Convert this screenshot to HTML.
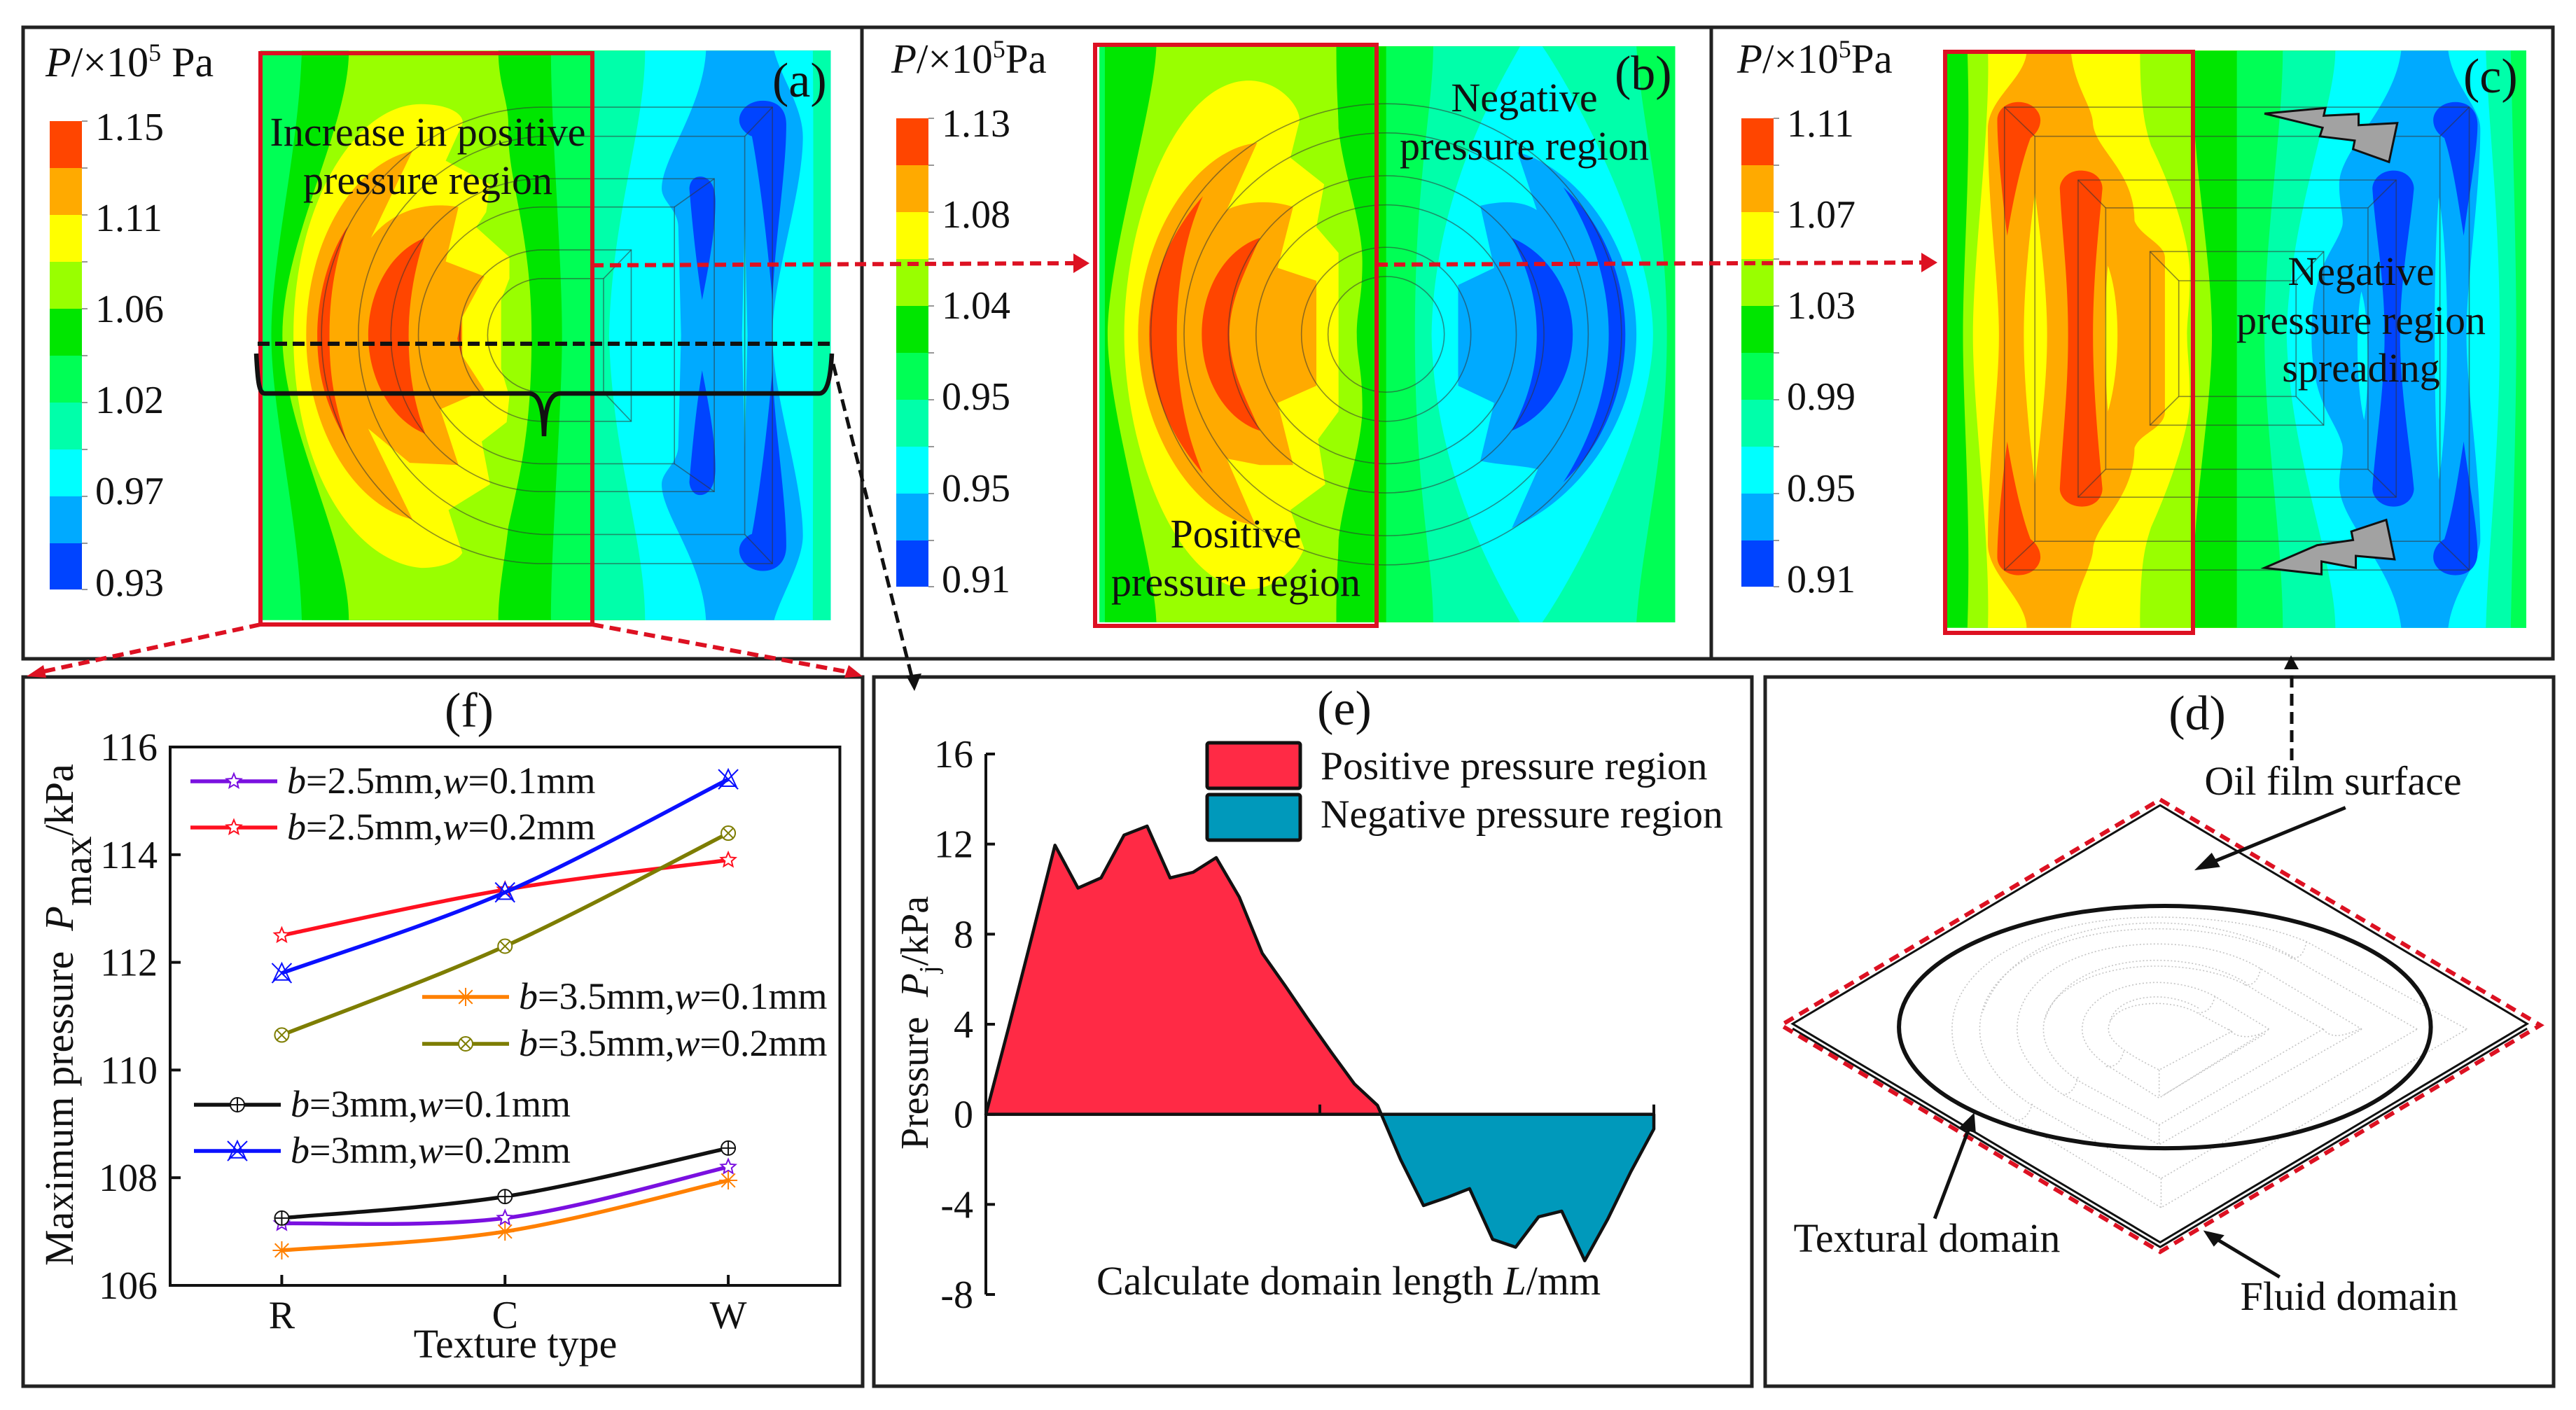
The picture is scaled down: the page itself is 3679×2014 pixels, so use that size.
<!DOCTYPE html>
<html lang="en">
<head>
<meta charset="utf-8">
<title>Oil film pressure distribution figure</title>
<style>
html,body{margin:0;padding:0;background:#fff;}
svg{display:block;}
text{font-family:"Liberation Serif",serif;fill:#111;}
.nss{vector-effect:non-scaling-stroke;}
.ring{fill:none;stroke:#333;stroke-opacity:.55;stroke-width:1.6;vector-effect:non-scaling-stroke;}
.dot{fill:none;stroke:#c4c4c4;stroke-width:1.6;stroke-dasharray:2 3;vector-effect:non-scaling-stroke;}
.lbl{font-size:56px;}
.cap{font-size:70px;}
.note{font-size:58px;text-anchor:middle;}
</style>
</head>
<body>
<svg id="figure" xmlns="http://www.w3.org/2000/svg" width="3679" height="2014" viewBox="0 0 3679 2014">
<defs>
  <clipPath id="clip-a"><rect x="470" y="118" width="1030" height="1329"/></clipPath>
  <clipPath id="clip-b"><rect x="430" y="108" width="1040" height="1344"/></clipPath>
  <clipPath id="clip-c"><rect x="430" y="118" width="1048" height="1347"/></clipPath>
  <g id="cbar">
    <rect x="0" y="0" width="46" height="67" fill="#ff4500"/>
    <rect x="0" y="67" width="46" height="67" fill="#ffaa00"/>
    <rect x="0" y="134" width="46" height="67" fill="#ffff00"/>
    <rect x="0" y="201" width="46" height="67" fill="#99ff00"/>
    <rect x="0" y="268" width="46" height="67" fill="#00e600"/>
    <rect x="0" y="335" width="46" height="67" fill="#00ff55"/>
    <rect x="0" y="402" width="46" height="67" fill="#00ffaa"/>
    <rect x="0" y="469" width="46" height="67" fill="#00ffff"/>
    <rect x="0" y="536" width="46" height="67" fill="#00aaff"/>
    <rect x="0" y="603" width="46" height="66" fill="#0044ff"/>
    <path d="M46,0h8M46,67h8M46,134h8M46,201h8M46,268h8M46,335h8M46,402h8M46,469h8M46,536h8M46,603h8M46,669h8" stroke="#777" stroke-width="1.5"/>
  </g>
</defs>
<rect x="0" y="0" width="3679" height="2014" fill="#fff"/>

<!-- PANEL A -->
<g transform="scale(.7908,.6122)">
 <g clip-path="url(#clip-a)">
  <rect x="470" y="118" width="1030" height="1329" fill="#00ff55"/>
  <path fill="#00e600" d="M545,118 C540,350 490,600 490,782 C490,960 540,1210 545,1447 H1600 V118Z"/>
  <path fill="#99ff00" d="M630,118 C630,300 510,560 510,782 C510,1000 630,1260 630,1447 H1600 V118Z"/>
  <path fill="#00e600" d="M900,118 C900,200 920,240 918,300 C916,420 960,540 960,782 C960,1000 940,1100 918,1230 C910,1320 900,1380 900,1447 H1600V118Z"/>
  <path fill="#00ff55" d="M995,118 C995,300 1015,600 1015,782 C1015,960 995,1260 995,1447 H1600V118Z"/>
  <path fill="#00ffaa" d="M1070,118 V1447 H1600 V118Z"/>
  <path fill="#00ffff" d="M1165,118 C1165,300 1105,500 1100,782 C1105,1060 1165,1260 1165,1447 H1600V118Z"/>
  <path fill="#00aaff" d="M1275,118 C1270,250 1195,370 1195,440 C1195,470 1225,490 1225,530 L1230,782 L1225,1040 C1225,1080 1195,1100 1195,1130 C1195,1200 1270,1310 1275,1447 H1600V118Z"/>
  <path fill="#00ffff" d="M1398,118 C1410,180 1450,250 1450,320 C1450,450 1395,650 1395,782 C1395,920 1450,1120 1450,1250 C1450,1310 1410,1390 1398,1447H1600V118Z"/>
  <path fill="#00ffaa" d="M1468,118 C1470,400 1468,1100 1468,1447 H1600V118Z"/>
  <path fill="#00ffff" d="M1345,520 L1350,782 L1345,1045 L1340,782Z"/>
  <path fill="#0044ff" d="M1395,700 C1400,550 1420,400 1420,290 C1420,250 1400,235 1378,235 C1350,235 1335,260 1335,280 C1335,300 1350,315 1358,318 C1370,400 1385,550 1395,700Z"/>
  <path fill="#0044ff" d="M1395,864 C1400,1014 1420,1164 1420,1274 C1420,1314 1400,1332 1378,1332 C1350,1332 1335,1304 1335,1284 C1335,1264 1350,1249 1358,1246 C1370,1164 1385,1014 1395,864Z"/>
  <path fill="#0044ff" d="M1268,700 C1280,620 1292,540 1292,470 C1292,430 1280,412 1264,412 C1250,412 1245,430 1245,440 C1250,520 1258,620 1268,700Z"/>
  <path fill="#0044ff" d="M1268,864 C1280,944 1292,1024 1292,1094 C1292,1134 1280,1155 1264,1155 C1250,1155 1245,1134 1245,1124 C1250,1044 1258,944 1268,864Z"/>
  <path fill="#ffff00" d="M760,243 C815,243 840,270 835,290 L805,375 L885,430 L878,495 L860,530 L920,600 L920,650 L905,700 L905,860 L920,925 L915,985 L870,1030 L885,1130 L810,1190 L835,1290 C820,1320 780,1325 760,1325 C640,1310 530,1100 530,782 C530,480 640,243 760,243Z"/>
  <path fill="#ffaa00" d="M745,352 C640,380 553,560 553,782 C553,1000 640,1180 745,1212 L665,1000 L740,1080 L828,1085 L795,955 L875,910 L835,830 L835,740 L875,645 L805,610 L828,483 C770,470 710,490 670,555 Z"/>
  <path fill="#ff4500" d="M628,528 C590,600 573,700 573,782 C573,880 590,950 628,1035 C600,930 595,860 595,782 C595,690 605,610 628,528Z"/>
  <path fill="#ff4500" d="M767,555 C700,590 665,690 665,782 C665,880 705,980 768,1012 C745,930 738,860 738,782 C738,700 750,620 767,555Z"/>
  <path fill="#ff4500" d="M833,750 L826,790 L833,830Z"/>
  <path class="ring" d="M1395,250 H980 A399,532 0 0 0 980,1315 H1395 Z"/>
  <path class="ring" d="M1345,318 H980 A349,465 0 0 0 980,1247 H1345 Z"/>
  <path class="ring" d="M1290,417 H980 A274,365 0 0 0 980,1147 H1290 Z"/>
  <path class="ring" d="M1218,483 H980 A224,299 0 0 0 980,1082 H1218 Z"/>
  <path class="ring" d="M1140,583 H980 A149,199 0 0 0 980,983 H1140 Z"/>
  <path class="ring" d="M1090,650 H980 A99,132 0 0 0 980,915 H1090 Z"/>
  <path class="ring" d="M1395,250 L1345,318 M1290,417 L1218,483 M1140,583 L1090,650 M1140,983 L1090,915 M1290,1147 L1218,1082 M1395,1315 L1345,1247"/>
 </g>
</g>
<use href="#cbar" x="71" y="173"/>
<text x="65" y="109" font-size="60"><tspan font-style="italic">P</tspan>/×10<tspan dy="-22" font-size="36">5</tspan><tspan dy="22"> Pa</tspan></text>
<g class="lbl">
 <text x="136" y="200">1.15</text><text x="136" y="330">1.11</text><text x="136" y="460">1.06</text><text x="136" y="590">1.02</text><text x="136" y="720">0.97</text><text x="136" y="851">0.93</text>
</g>
<text class="cap" x="1103" y="138">(a)</text>
<text class="note" x="611" y="208">Increase in positive</text>
<text class="note" x="611" y="277">pressure region</text>
<rect x="372" y="76" width="474" height="816" fill="none" stroke="#dd1122" stroke-width="6"/>

<!-- PANEL B -->
<g transform="translate(1230,0) scale(.7908,.6122)">
 <g clip-path="url(#clip-b)">
  <rect x="430" y="108" width="1040" height="1344" fill="#00ff55"/>
  <path fill="#00e600" d="M440,108 V1452 H1600 V108Z"/>
  <path fill="#99ff00" d="M533,108 C530,250 445,600 445,780 C445,960 530,1310 533,1452 H1600V108Z"/>
  <path fill="#00e600" d="M858,108 C858,220 862,260 862,300 C870,400 905,520 905,610 C905,700 895,720 895,780 C895,840 905,860 905,950 C905,1040 870,1160 862,1260 C862,1300 858,1340 858,1452H1600V108Z"/>
  <path fill="#00ff55" d="M948,108 V1452H1600V108Z"/>
  <path fill="#00ffaa" d="M1033,108 C1033,250 1000,420 1000,780 C1000,1140 1033,1310 1033,1452H1600V108Z"/>
  <path fill="#00ffff" d="M1190,108 C1150,200 1035,450 1030,780 C1035,1110 1150,1360 1190,1452 H1230 C1290,1340 1430,1000 1430,780 C1430,560 1290,220 1230,108Z"/>
  <path fill="#00ff55" d="M1400,108 C1410,300 1455,500 1455,780 C1455,1060 1410,1260 1400,1452H1600V108Z"/>
  <path fill="#00aaff" d="M1185,355 C1290,390 1400,570 1400,780 C1400,990 1290,1170 1175,1232 L1222,1095 C1190,1085 1150,1085 1118,1075 L1143,940 L1078,900 L1078,665 L1143,625 L1118,480 C1150,470 1190,465 1220,490 Z"/>
  <path fill="#0044ff" d="M1268,437 C1340,520 1380,650 1380,780 C1380,910 1340,1040 1268,1125 C1320,1020 1350,900 1350,780 C1350,660 1320,540 1268,437Z"/>
  <path fill="#0044ff" d="M1175,555 C1240,590 1285,680 1285,780 C1285,880 1240,970 1175,1005 C1205,930 1220,860 1220,780 C1220,700 1205,630 1175,555Z"/>
  <path fill="#ffff00" d="M700,188 C760,188 800,260 790,290 L775,368 L836,430 L822,530 L862,590 L862,960 L825,1025 L838,1130 L775,1190 L800,1280 C780,1340 740,1375 700,1375 C570,1370 475,1050 475,780 C475,510 570,188 700,188Z"/>
  <path fill="#ffaa00" d="M715,333 C600,350 500,560 500,780 C500,1000 600,1210 712,1225 L660,1070 L720,1085 L780,1085 L752,940 L822,900 L822,655 L752,625 L780,483 C740,465 690,470 660,490 Z"/>
  <path fill="#ff4500" d="M617,458 C560,540 520,650 520,780 C520,910 560,1020 617,1105 C585,1010 570,900 570,780 C570,660 585,550 617,458Z"/>
  <path fill="#ff4500" d="M720,555 C660,580 615,670 615,780 C615,890 660,980 720,1005 C695,930 665,860 665,780 C665,700 695,630 720,555Z"/>
  <ellipse class="ring" cx="948" cy="780" rx="105" ry="135"/>
  <ellipse class="ring" cx="948" cy="780" rx="153" ry="203"/>
  <ellipse class="ring" cx="948" cy="780" rx="235" ry="302"/>
  <ellipse class="ring" cx="948" cy="780" rx="285" ry="370"/>
  <ellipse class="ring" cx="948" cy="780" rx="365" ry="470"/>
  <ellipse class="ring" cx="948" cy="780" rx="425" ry="538"/>
 </g>
</g>
<use href="#cbar" x="1280" y="169"/>
<text x="1273" y="104" font-size="59"><tspan font-style="italic">P</tspan>/×10<tspan dy="-22" font-size="36">5</tspan><tspan dy="22">Pa</tspan></text>
<g class="lbl">
 <text x="1345" y="195">1.13</text><text x="1345" y="325">1.08</text><text x="1345" y="455">1.04</text><text x="1345" y="585">0.95</text><text x="1345" y="716">0.95</text><text x="1345" y="846">0.91</text>
</g>
<text class="cap" x="2306" y="128">(b)</text>
<text class="note" x="2177" y="159">Negative</text>
<text class="note" x="2177" y="228">pressure region</text>
<text class="note" x="1765" y="782">Positive</text>
<text class="note" x="1765" y="851">pressure region</text>
<rect x="1564" y="64" width="402" height="830" fill="none" stroke="#dd1122" stroke-width="6"/>

<!-- PANEL C -->
<g transform="translate(2440,0) scale(.7902,.6122)">
 <g clip-path="url(#clip-c)">
  <rect x="430" y="118" width="1048" height="1347" fill="#00e600"/>
  <path fill="#99ff00" d="M468,118 C475,400 460,600 460,782 C460,960 475,1200 468,1465 H1600V118Z"/>
  <path fill="#ffff00" d="M505,118 C510,300 478,600 478,782 C478,960 510,1260 505,1465H1600V118Z"/>
  <path fill="#ffaa00" d="M575,118 C575,180 505,230 505,300 C505,500 525,650 525,782 C525,920 505,1060 505,1270 C505,1340 575,1400 575,1465 H1600V118Z"/>
  <path fill="#ffff00" d="M655,118 C660,200 695,250 695,290 C700,350 770,400 770,515 C780,550 825,570 825,600 L825,960 C825,1000 780,1010 770,1045 C770,1160 700,1220 695,1280 C695,1320 660,1380 655,1465H1600V118Z"/>
  <path fill="#99ff00" d="M780,118 C780,250 790,300 800,340 C835,430 870,560 870,640 C870,720 865,740 865,782 C865,820 870,860 870,930 C870,1000 835,1130 800,1230 C790,1270 780,1310 780,1465H1600V118Z"/>
  <path fill="#00e600" d="M872,118 C875,400 910,600 910,782 C910,960 875,1160 872,1465H1600V118Z"/>
  <path fill="#00ff55" d="M955,118 V1465H1600V118Z"/>
  <path fill="#00ffaa" d="M1038,118 C1038,300 1005,550 1005,782 C1005,1010 1038,1260 1038,1465H1600V118Z"/>
  <path fill="#00ffff" d="M1133,118 C1133,250 1050,500 1045,782 C1050,1060 1133,1310 1133,1465H1600V118Z"/>
  <path fill="#00aaff" d="M1252,118 C1240,250 1140,350 1140,430 C1140,480 1150,510 1145,530 C1130,590 1090,620 1090,782 C1090,940 1130,970 1145,1035 C1150,1060 1140,1090 1140,1130 C1140,1220 1240,1320 1252,1465H1600V118Z"/>
  <path fill="#00ffff" d="M1337,118 C1345,200 1395,250 1395,300 C1395,450 1370,650 1370,782 C1370,910 1395,1100 1395,1260 C1395,1310 1345,1380 1337,1465H1600V118Z"/>
  <path fill="#00ffaa" d="M1405,118 C1410,300 1430,500 1430,782 C1430,1060 1410,1260 1405,1465H1600V118Z"/>
  <path fill="#00ff55" d="M1450,118 C1455,400 1460,600 1460,782 C1460,960 1455,1160 1450,1465H1600V118Z"/>
  <path fill="#ffff00" d="M590,450 C575,600 570,700 570,782 C570,870 575,960 590,1130 C605,960 612,870 612,782 C612,700 605,600 590,450Z"/>
  <path fill="#ffff00" d="M722,620 C715,700 715,860 722,960 C745,860 745,700 722,620Z"/>
  <path fill="#00ffff" d="M1320,460 C1310,600 1310,960 1320,1120 C1340,960 1340,600 1320,460Z"/>
  <path fill="#00ffff" d="M1180,680 C1170,740 1170,900 1185,980 C1195,900 1195,740 1180,680Z"/>
  <path fill="#ff4500" d="M540,550 C530,450 522,340 522,280 C522,255 540,238 560,238 C585,238 600,260 600,280 C600,300 590,315 582,322 C565,380 550,470 540,550Z"/>
  <path fill="#ff4500" d="M540,1030 C530,1130 522,1240 522,1300 C522,1325 540,1342 560,1342 C585,1342 600,1320 600,1300 C600,1280 590,1265 582,1258 C565,1200 550,1110 540,1030Z"/>
  <path fill="#ff4500" d="M672,398 C650,398 635,420 635,440 C640,560 650,650 650,782 C650,910 640,1020 635,1140 C635,1160 650,1182 675,1182 C700,1182 712,1160 712,1140 C705,1040 695,910 695,782 C695,650 705,540 712,440 C712,420 700,398 672,398Z"/>
  <path fill="#0044ff" d="M1365,550 C1375,450 1390,350 1390,290 C1390,260 1375,238 1350,238 C1325,238 1310,260 1310,280 C1310,300 1320,315 1330,322 C1345,380 1355,470 1365,550Z"/>
  <path fill="#0044ff" d="M1365,1030 C1375,1130 1390,1230 1390,1290 C1390,1320 1375,1342 1350,1342 C1325,1342 1310,1320 1310,1300 C1310,1280 1320,1265 1330,1258 C1345,1200 1355,1110 1365,1030Z"/>
  <path fill="#0044ff" d="M1238,398 C1215,398 1200,420 1200,440 C1205,540 1222,650 1222,782 C1222,910 1205,1040 1200,1140 C1200,1160 1215,1182 1238,1182 C1262,1182 1275,1160 1275,1140 C1268,1040 1250,910 1250,782 C1250,650 1268,540 1275,440 C1275,420 1262,398 1238,398Z"/>
  <rect class="ring" x="535" y="250" width="840" height="1080"/>
  <rect class="ring" x="590" y="318" width="732" height="945"/>
  <rect class="ring" x="668" y="420" width="575" height="740"/>
  <rect class="ring" x="718" y="485" width="474" height="610"/>
  <rect class="ring" x="798" y="587" width="314" height="405"/>
  <rect class="ring" x="850" y="655" width="212" height="270"/>
  <path class="ring" d="M535,250 L590,318 M1375,250 L1322,318 M668,420 L718,485 M1243,420 L1192,485 M798,587 L850,655 M1112,587 L1062,655 M798,992 L850,925 M1112,992 L1062,925 M668,1160 L718,1095 M1243,1160 L1192,1095 M535,1330 L590,1263 M1375,1330 L1322,1263"/>
 </g>
 <path class="nss" fill="#a2a2a2" stroke="#111" stroke-width="3" d="M1005,265 L1115,252 L1112,270 L1175,266 L1175,292 L1245,287 L1230,378 L1165,348 L1168,328 L1105,318 L1110,298 Z"/>
 <path class="nss" fill="#a2a2a2" stroke="#111" stroke-width="3" d="M1005,1325 L1100,1272 L1165,1260 L1162,1240 L1225,1213 L1240,1305 L1170,1297 L1170,1325 L1108,1310 L1108,1340 Z"/>
</g>
<use href="#cbar" x="2487" y="169"/>
<text x="2481" y="104" font-size="59"><tspan font-style="italic">P</tspan>/×10<tspan dy="-22" font-size="36">5</tspan><tspan dy="22">Pa</tspan></text>
<g class="lbl">
 <text x="2552" y="195">1.11</text><text x="2552" y="325">1.07</text><text x="2552" y="455">1.03</text><text x="2552" y="585">0.99</text><text x="2552" y="716">0.95</text><text x="2552" y="846">0.91</text>
</g>
<text class="cap" x="3518" y="132">(c)</text>
<text class="note" x="3372" y="407">Negative</text>
<text class="note" x="3372" y="477">pressure region</text>
<text class="note" x="3372" y="545">spreading</text>
<rect x="2778" y="74" width="354" height="830" fill="none" stroke="#dd1122" stroke-width="6"/>

<!-- FRAMES -->
<g fill="none" stroke="#222" stroke-width="5">
  <rect x="33" y="39" width="3613" height="902"/>
  <line x1="1231" y1="39" x2="1231" y2="941"/>
  <line x1="2444" y1="39" x2="2444" y2="941"/>
  <rect x="33" y="967" width="1199" height="1013"/>
  <rect x="1248" y="967" width="1254" height="1013"/>
  <rect x="2521" y="967" width="1126" height="1013"/>
</g>

<!-- CONNECTORS -->
<g>
  <line x1="368" y1="491" x2="1186" y2="491" stroke="#111" stroke-width="6" stroke-dasharray="17 8"/>
  <path d="M366,505 C368,545 370,562 378,562 H755 C768,562 776,575 777,623 C778,575 788,562 800,562 H1170 C1180,562 1186,545 1188,505" fill="none" stroke="#111" stroke-width="6.5"/>
</g>
<g>
  <line x1="846" y1="379" x2="1535" y2="376" stroke="#dd1122" stroke-width="6" stroke-dasharray="16 9"/>
  <polygon points="1556,376 1533,362 1533,390" fill="#dd1122"/>
  <line x1="1966" y1="378" x2="2745" y2="375" stroke="#dd1122" stroke-width="6" stroke-dasharray="16 9"/>
  <polygon points="2767,375 2744,361 2744,389" fill="#dd1122"/>
  <line x1="372" y1="892" x2="58" y2="960" stroke="#dd1122" stroke-width="6" stroke-dasharray="16 9"/>
  <polygon points="38,966 62,950 66,968" fill="#dd1122"/>
  <line x1="846" y1="892" x2="1212" y2="960" stroke="#dd1122" stroke-width="6" stroke-dasharray="16 9"/>
  <polygon points="1232,966 1206,968 1212,950" fill="#dd1122"/>
</g>
<g>
  <line x1="1190" y1="520" x2="1303" y2="970" stroke="#111" stroke-width="5" stroke-dasharray="17 9"/>
  <polygon points="1306,987 1294,965 1316,962" fill="#111"/>
  <line x1="3273" y1="1086" x2="3273" y2="950" stroke="#111" stroke-width="5" stroke-dasharray="17 9"/>
  <polygon points="3272,936 3262,956 3283,956" fill="#111"/>
</g>

<!-- PANEL D -->
<g transform="translate(2780,1260) scale(.3954,.3333)">
  <path class="dot" d="M1030,640 L905,560 C860,530 800,520 760,520 C660,520 585,560 585,630 C585,680 640,730 768,805 Z"/>
  <path class="dot" d="M910,540 C860,505 800,490 750,492 C660,495 600,540 590,600"/>
  <path class="dot" d="M1165,630 L970,490 C900,445 820,430 760,430 C620,430 490,510 490,630 C490,690 530,750 600,800 L768,925 Z"/>
  <path class="dot" d="M1150,650 L780,915"/>
  <path class="dot" d="M1360,630 L1130,475 C1030,390 880,360 760,360 C530,360 350,470 350,630 C350,730 420,820 520,880 L768,1040 Z"/>
  <path class="dot" d="M1080,430 C980,360 860,335 760,335 C570,335 400,420 355,590"/>
  <path class="dot" d="M1500,630 L1140,375 C1040,300 900,265 760,265 C460,265 255,420 255,630 C255,730 320,830 420,910 L768,1125 Z"/>
  <path class="dot" d="M1700,630 L1300,360 C1160,250 950,200 760,200 C400,200 120,370 120,630 C120,760 200,870 300,950 L775,1270 Z"/>
  <path class="dot" d="M1250,320 C1100,220 930,175 760,175 C450,175 200,310 130,560"/>
  <path class="dot" d="M1880,630 L1300,255 C1150,180 950,150 760,150 C350,150 20,340 20,630 C20,800 120,920 240,1010 L775,1395 Z"/>
  <path class="dot" d="M768,805 V925 M768,1040 V1130 M775,1270 V1395"/>
  <path class="dot" d="M970,490 C960,530 945,560 910,560 M1135,370 C1125,420 1110,445 1075,440 M1300,255 C1290,310 1275,330 1240,325 M640,725 C630,770 610,795 575,790 M475,835 C465,880 450,910 420,910 M310,950 C300,990 280,1025 245,1020 M1020,630 C1040,665 1100,680 1165,630 M1360,630 C1385,665 1420,670 1500,625"/>
</g>
<g transform="translate(2500,950) scale(.752,.6786)">
  <polygon class="nss" points="778,295 1475,755 778,1215 80,755" fill="none" stroke="#111" stroke-width="3"/>
  <path class="nss" d="M80,765 L778,1225 L1475,765" fill="none" stroke="#111" stroke-width="3"/>
  <polygon class="nss" points="778,283 1500,758 778,1235 58,758" fill="none" stroke="#dd1122" stroke-width="6" stroke-dasharray="15 10"/>
  <ellipse class="nss" cx="787" cy="762" rx="505" ry="255" fill="none" stroke="#111" stroke-width="6"/>
  <line class="nss" x1="1130" y1="300" x2="870" y2="418" stroke="#111" stroke-width="5"/>
  <polygon points="843,432 876,395 892,425" fill="#111"/>
  <line class="nss" x1="350" y1="1165" x2="415" y2="975" stroke="#111" stroke-width="5"/>
  <polygon points="425,942 428,985 395,975" fill="#111"/>
  <line class="nss" x1="1005" y1="1288" x2="885" y2="1208" stroke="#111" stroke-width="5"/>
  <polygon points="860,1190 900,1200 880,1224" fill="#111"/>
</g>
<text class="cap" x="3138" y="1042" text-anchor="middle">(d)</text>
<text class="note" x="3332" y="1135">Oil film surface</text>
<text class="note" x="2752" y="1788">Textural domain</text>
<text class="note" x="3355" y="1871">Fluid domain</text>

<g id="chart-f"></g>
<g id="chart-e"></g>
</svg>

<script>
// ---- panel (f) data ----
const textureCategories = ['R', 'C', 'W'];
const maxPressureTicks = [106, 108, 110, 112, 114, 116];
const b25w01 = [107.15, 107.25, 108.2];
const b25w02 = [112.5, 113.35, 113.9];
const b30w01 = [107.25, 107.65, 108.55];
const b30w02 = [111.8, 113.3, 115.4];
const b35w01 = [106.65, 107.0, 107.95];
const b35w02 = [110.65, 112.3, 114.4];

// ---- panel (e) data ----
const pressureTicks = [16, 12, 8, 4, 0, -4, -8];
const lengthTicks = [0, 14.5, 29];
const pressureProfile = [0, 3.9, 7.9, 11.95, 10.05, 10.5, 12.4, 12.8, 10.5, 10.75, 11.4, 9.65, 7.15, 5.7, 4.2, 2.75, 1.35, 0.4, -2.0, -4.05, -3.7, -3.3, -5.55, -5.9, -4.55, -4.3, -6.5, -4.65, -2.55, -0.65];

const NS = 'http://www.w3.org/2000/svg';
function make(parent, tag, attrs, txt) {
  const el = document.createElementNS(NS, tag);
  for (const k in attrs) el.setAttribute(k, attrs[k]);
  if (txt !== undefined) el.textContent = txt;
  parent.appendChild(el);
  return el;
}
function markup(parent, attrs, parts) {
  const t = make(parent, 'text', attrs);
  parts.forEach(function (p) {
    const s = make(t, 'tspan', p.a || {}, p.t);
    if (p.i) s.setAttribute('font-style', 'italic');
  });
  return t;
}

// ---------- chart f ----------
const fRoot = document.getElementById('chart-f');
const fLeft = 243, fRight = 1199.5, fTop = 1067, fBottom = 1836;
function xF(i) { return fLeft + (i + 0.5) * (fRight - fLeft) / textureCategories.length; }
function yF(v) { return fBottom - (v - 106) / (116 - 106) * (fBottom - fTop); }

function smoothPath(pts) {
  let d = 'M' + pts[0][0] + ',' + pts[0][1];
  for (let i = 0; i < pts.length - 1; i++) {
    const p0 = pts[Math.max(0, i - 1)], p1 = pts[i], p2 = pts[i + 1], p3 = pts[Math.min(pts.length - 1, i + 2)];
    d += ' C' + (p1[0] + (p2[0] - p0[0]) / 6) + ',' + (p1[1] + (p2[1] - p0[1]) / 6) + ' ' +
      (p2[0] - (p3[0] - p1[0]) / 6) + ',' + (p2[1] - (p3[1] - p1[1]) / 6) + ' ' + p2[0] + ',' + p2[1];
  }
  return d;
}
function markerPath(kind, cx, cy, r) {
  const seg = function (a, b, c, d) { return 'M' + (cx + a) + ',' + (cy + b) + 'L' + (cx + c) + ',' + (cy + d); };
  const circ = 'M' + (cx - r) + ',' + cy + 'a' + r + ',' + r + ' 0 1 0 ' + (2 * r) + ',0a' + r + ',' + r + ' 0 1 0 ' + (-2 * r) + ',0';
  if (kind === 'star') {
    let d = '';
    for (let i = 0; i < 10; i++) {
      const ang = -Math.PI / 2 + i * Math.PI / 5, rad = i % 2 ? r * 0.45 : r;
      d += (i ? 'L' : 'M') + (cx + rad * Math.cos(ang)) + ',' + (cy + rad * Math.sin(ang));
    }
    return d + 'Z';
  }
  if (kind === 'circlePlus') return circ + seg(-r, 0, r, 0) + seg(0, -r, 0, r);
  if (kind === 'circleX') { const k = r * 0.7; return circ + seg(-k, -k, k, k) + seg(-k, k, k, -k); }
  if (kind === 'asterisk') { const k = r * 0.75; return seg(-r, 0, r, 0) + seg(0, -r, 0, r) + seg(-k, -k, k, k) + seg(-k, k, k, -k); }
  const k = r; // cross with triangle
  return seg(-k, -k, k, k) + seg(-k, k, k, -k) + 'M' + cx + ',' + (cy - k) + 'L' + (cx + k * 0.8) + ',' + (cy + k * 0.7) + 'L' + (cx - k * 0.8) + ',' + (cy + k * 0.7) + 'Z';
}
const seriesList = [
  { key: 'b25-w01', values: b25w01, color: '#7a10e0', kind: 'star', r: 11, label: ['2.5mm,', '0.1mm'], lx: 272, ly: 1116 },
  { key: 'b25-w02', values: b25w02, color: '#ff1020', kind: 'star', r: 11, label: ['2.5mm,', '0.2mm'], lx: 272, ly: 1182 },
  { key: 'b35-w01', values: b35w01, color: '#ff8000', kind: 'asterisk', r: 13, label: ['3.5mm,', '0.1mm'], lx: 603, ly: 1424 },
  { key: 'b35-w02', values: b35w02, color: '#7d7d00', kind: 'circleX', r: 10, label: ['3.5mm,', '0.2mm'], lx: 603, ly: 1491 },
  { key: 'b30-w01', values: b30w01, color: '#111111', kind: 'circlePlus', r: 10, label: ['3mm,', '0.1mm'], lx: 277, ly: 1578 },
  { key: 'b30-w02', values: b30w02, color: '#0a10ff', kind: 'crossTriangle', r: 14, label: ['3mm,', '0.2mm'], lx: 277, ly: 1644 }
];
function markerFill(kind) {
  return kind === 'circlePlus' || kind === 'circleX' || kind === 'star' ? '#ffffff' : 'none';
}

const fTickGroup = make(fRoot, 'g', {});


make(fTickGroup, 'rect', { x: fLeft, y: fTop, width: fRight - fLeft, height: fBottom - fTop, fill: 'none', stroke: '#111', 'stroke-width': 4 });
maxPressureTicks.forEach(function (v) {
  make(fTickGroup, 'line', { x1: fLeft, x2: fLeft + 15, y1: yF(v), y2: yF(v), stroke: '#111', 'stroke-width': 4 });
  const t = make(fTickGroup, 'text', { x: 225, y: yF(v) + 19, 'text-anchor': 'end', 'font-size': 56 }, String(v));
  
  
});
textureCategories.forEach(function (c, i) {
  make(fTickGroup, 'line', { x1: xF(i), x2: xF(i), y1: fBottom, y2: fBottom - 15, stroke: '#111', 'stroke-width': 4 });
  const t = make(fTickGroup, 'text', { x: xF(i), y: 1897, 'text-anchor': 'middle', 'font-size': 56 }, c);
  
  
});
const xTitleF = make(fRoot, 'text', { x: 736, y: 1939, 'text-anchor': 'middle', 'font-size': 58 }, 'Texture type');


const yTitleF = markup(fRoot, { transform: 'translate(104,1808) rotate(-90)', 'font-size': 58 }, [
  { t: 'Maximum pressure\u00a0\u00a0' }, { t: 'P', i: true }, { t: 'max', a: { dy: 26 } }, { t: '/kPa', a: { dy: -26 } }
]);


const capF = make(fRoot, 'text', { x: 670, y: 1038, 'text-anchor': 'middle', 'font-size': 70 }, '(f)');



seriesList.forEach(function (s) {
  const g = make(fRoot, 'g', {});
  
  
  const pts = s.values.map(function (v, i) { return [xF(i), yF(v)]; });
  make(g, 'path', { d: smoothPath(pts), fill: 'none', stroke: s.color, 'stroke-width': 5.5 });
  pts.forEach(function (p) {
    const m = make(g, 'path', { d: markerPath(s.kind, p[0], p[1], s.r), fill: markerFill(s.kind), stroke: s.color, 'stroke-width': 2 });
    
    
  });
  const lg = make(fRoot, 'g', {});
  
  
  make(lg, 'line', { x1: s.lx, x2: s.lx + 124, y1: s.ly, y2: s.ly, stroke: s.color, 'stroke-width': 5.5 });
  make(lg, 'path', { d: markerPath(s.kind, s.lx + 62, s.ly, s.r), fill: markerFill(s.kind), stroke: s.color, 'stroke-width': 2 });
  markup(lg, { x: s.lx + 138, y: s.ly + 17, 'font-size': 54 }, [
    { t: 'b', i: true }, { t: '=' + s.label[0] }, { t: 'w', i: true }, { t: '=' + s.label[1] }
  ]);
});

// ---------- chart e ----------
const eRoot = document.getElementById('chart-e');
const eX0 = 1408, eXEnd = 2362, eY16 = 1077, eYm8 = 1849;
function xE(i) { return eX0 + i / (pressureProfile.length - 1) * (eXEnd - eX0); }
function yE(v) { return eY16 + (16 - v) / 24 * (eYm8 - eY16); }

let crossAt = pressureProfile.length - 1;
for (let i = 0; i < pressureProfile.length - 1; i++) {
  if (pressureProfile[i] >= 0 && pressureProfile[i + 1] < 0) {
    crossAt = i + pressureProfile[i] / (pressureProfile[i] - pressureProfile[i + 1]);
    break;
  }
}
let posD = 'M' + xE(0) + ',' + yE(0);
let negD = 'M' + xE(crossAt) + ',' + yE(0);
pressureProfile.forEach(function (v, i) {
  if (i <= crossAt) posD += 'L' + xE(i) + ',' + yE(v);
  else negD += 'L' + xE(i) + ',' + yE(v);
});
posD += 'L' + xE(crossAt) + ',' + yE(0) + 'Z';
negD += 'L' + xE(pressureProfile.length - 1) + ',' + yE(0) + 'Z';

const posArea = make(eRoot, 'path', { d: posD, fill: '#ff2a45', stroke: '#111', 'stroke-width': 4.5, 'stroke-linejoin': 'round' });


const negArea = make(eRoot, 'path', { d: negD, fill: '#0099bb', stroke: '#111', 'stroke-width': 4.5, 'stroke-linejoin': 'round' });



const eAxes = make(eRoot, 'g', {});


make(eAxes, 'line', { x1: eX0, x2: eX0, y1: yE(16), y2: yE(-8), stroke: '#111', 'stroke-width': 4 });
make(eAxes, 'line', { x1: eX0, x2: eXEnd, y1: yE(0), y2: yE(0), stroke: '#111', 'stroke-width': 4 });
pressureTicks.forEach(function (v) {
  make(eAxes, 'line', { x1: eX0, x2: eX0 + 13, y1: yE(v), y2: yE(v), stroke: '#111', 'stroke-width': 4 });
  const t = make(eAxes, 'text', { x: 1390, y: yE(v) + 19, 'text-anchor': 'end', 'font-size': 56 }, String(v));
  
  
});
lengthTicks.forEach(function (i) {
  make(eAxes, 'line', { x1: xE(i), x2: xE(i), y1: yE(0), y2: yE(0) - 14, stroke: '#111', 'stroke-width': 4 });
});
const yTitleE = markup(eRoot, { transform: 'translate(1325,1642) rotate(-90)', 'font-size': 56 }, [
  { t: 'Pressure\u00a0\u00a0' }, { t: 'P', i: true }, { t: 'j', a: { dy: 14, 'font-size': 38 } }, { t: '/kPa', a: { dy: -14 } }
]);


const xTitleE = markup(eRoot, { x: 1566, y: 1849, 'font-size': 58 }, [
  { t: 'Calculate domain length ' }, { t: 'L', i: true }, { t: '/mm' }
]);


const capE = make(eRoot, 'text', { x: 1920, y: 1035, 'text-anchor': 'middle', 'font-size': 70 }, '(e)');



const legPos = make(eRoot, 'g', {});


make(legPos, 'rect', { x: 1724, y: 1061, width: 133, height: 65, fill: '#ff2a45', stroke: '#111', 'stroke-width': 5, rx: 3 });
make(legPos, 'text', { x: 1886, y: 1113, 'font-size': 57.5 }, 'Positive pressure region');
const legNeg = make(eRoot, 'g', {});


make(legNeg, 'rect', { x: 1724, y: 1135, width: 133, height: 65, fill: '#0099bb', stroke: '#111', 'stroke-width': 5, rx: 3 });
make(legNeg, 'text', { x: 1886, y: 1182, 'font-size': 57.5 }, 'Negative pressure region');
</script>
</body>
</html>
